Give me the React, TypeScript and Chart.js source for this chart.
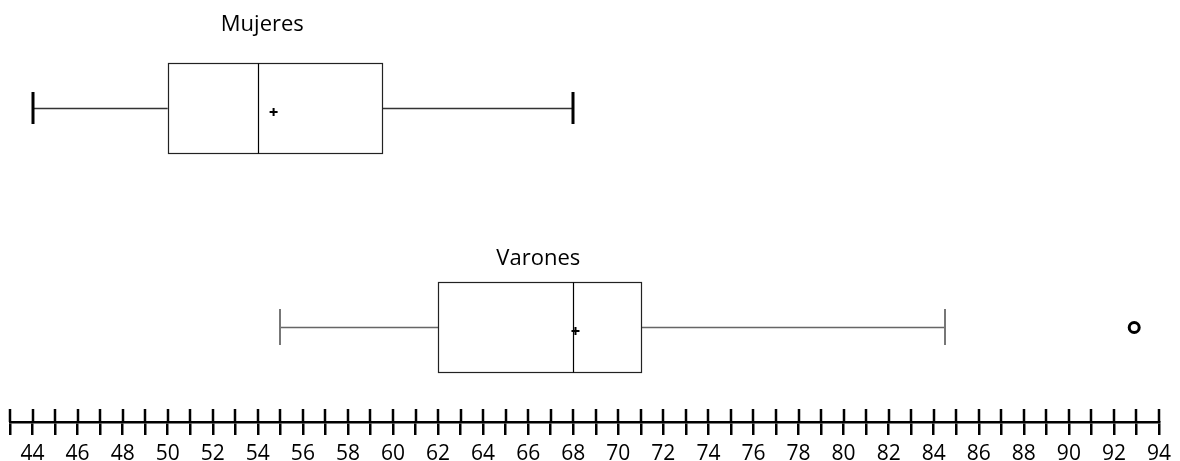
import { useEffect, useRef } from 'react';
import { Chart, registerables } from 'chart.js';

Chart.register(...registerables);

// ---- data ----
const categories = ['Mujeres', 'Varones'];
const rowPositions = [2, 1];
const whiskerLow = [44, 55];
const q1 = [50, 62];
const median = [54, 68];
const q3 = [59.5, 71];
const whiskerHigh = [68, 84.5];
const means = [54.7, 68.1];
const outlierValues = [92.9];
const outlierRows = [1];
const xMin = 43;
const xMax = 94;
const tickStep = 1;
const labelEvery = 2;

// ---- styles (not data) ----
const FONT = "'Comic Sans MS', 'Open Sans', sans-serif";
const titleAnchorX = [54.2, 66.45];
const titleBaselineAbove = [77, 62];
const whiskerColors = ['#333333', '#666666'];
const capColors = ['#000000', '#777777'];
const capWidths = [3, 2];
const capHalf = [16, 18];
const boxHalf = 45;

const boxPlotPlugin = {
  id: 'boxPlotPlugin',
  afterDatasetsDraw(chart: any) {
    const { ctx, scales } = chart;
    const x = scales.x;
    const y = scales.y;
    const px = (v: number) => x.getPixelForValue(v);
    ctx.save();
    categories.forEach((name, i) => {
      const cy = Math.round(y.getPixelForValue(rowPositions[i]));
      // whiskers
      ctx.strokeStyle = whiskerColors[i];
      ctx.lineWidth = 1.5;
      ctx.beginPath();
      ctx.moveTo(px(whiskerLow[i]), cy + 0.5);
      ctx.lineTo(px(q1[i]), cy + 0.5);
      ctx.moveTo(px(q3[i]), cy + 0.5);
      ctx.lineTo(px(whiskerHigh[i]), cy + 0.5);
      ctx.stroke();
      // caps
      ctx.strokeStyle = capColors[i];
      ctx.lineWidth = capWidths[i];
      ctx.beginPath();
      [whiskerLow[i], whiskerHigh[i]].forEach((v) => {
        const xx = Math.round(px(v));
        ctx.moveTo(xx, cy - capHalf[i]);
        ctx.lineTo(xx, cy + capHalf[i]);
      });
      ctx.stroke();
      // box
      ctx.strokeStyle = '#222222';
      ctx.lineWidth = 1.2;
      const left = Math.round(px(q1[i])) + 0.5;
      const right = Math.round(px(q3[i])) + 0.5;
      ctx.fillStyle = '#ffffff';
      ctx.fillRect(left, cy - boxHalf + 0.5, right - left, boxHalf * 2);
      ctx.strokeRect(left, cy - boxHalf + 0.5, right - left, boxHalf * 2);
      // median
      ctx.strokeStyle = '#000000';
      const mx = Math.round(px(median[i])) + 0.5;
      ctx.beginPath();
      ctx.moveTo(mx, cy - boxHalf + 0.5);
      ctx.lineTo(mx, cy + boxHalf + 0.5);
      ctx.stroke();
      // mean marker
      const meanX = px(means[i]);
      const meanY = cy + 4;
      ctx.lineWidth = 2;
      ctx.beginPath();
      ctx.moveTo(meanX - 4, meanY);
      ctx.lineTo(meanX + 4, meanY);
      ctx.moveTo(meanX, meanY - 4);
      ctx.lineTo(meanX, meanY + 4);
      ctx.stroke();
      // title
      ctx.fillStyle = '#000000';
      ctx.font = `22px ${FONT}`;
      ctx.textAlign = 'center';
      ctx.textBaseline = 'alphabetic';
      ctx.fillText(name, px(titleAnchorX[i]), cy - titleBaselineAbove[i]);
    });
    ctx.restore();
  },
  afterDraw(chart: any) {
    const { ctx, scales } = chart;
    const x = scales.x;
    const bottom = chart.chartArea.bottom;
    ctx.save();
    ctx.strokeStyle = '#000000';
    ctx.lineWidth = 2.5;
    ctx.beginPath();
    x.ticks.forEach((_t: any, i: number) => {
      const xx = Math.round(x.getPixelForTick(i));
      ctx.moveTo(xx, bottom - 13);
      ctx.lineTo(xx, bottom);
    });
    ctx.stroke();
    ctx.restore();
  },
};

export default function App() {
  const ref = useRef<HTMLCanvasElement | null>(null);
  useEffect(() => {
    if (!ref.current) return;
    const chart = new Chart(ref.current, {
      type: 'scatter',
      data: {
        datasets: [
          {
            label: 'Atípicos',
            data: outlierValues.map((v, i) => ({ x: v, y: outlierRows[i] })),
            pointStyle: 'circle',
            pointRadius: 5,
            pointBorderWidth: 3,
            borderColor: '#000000',
            backgroundColor: '#ffffff',
          },
        ],
      },
      options: {
        responsive: false,
        animation: false,
        events: [],
        layout: { autoPadding: false, padding: { left: 10, right: 20, top: 0, bottom: -13 } },
        plugins: {
          legend: { display: false },
          tooltip: { enabled: false },
          title: { display: false },
        },
        scales: {
          x: {
            type: 'linear',
            min: xMin,
            max: xMax,
            position: 'bottom',
            border: { display: true, color: '#000000', width: 2.5 },
            grid: {
              drawOnChartArea: false,
              drawTicks: true,
              tickLength: 13,
              color: '#000000',
              lineWidth: 2.5,
            },
            ticks: {
              stepSize: tickStep,
              autoSkip: false,
              maxRotation: 0,
              minRotation: 0,
              padding: 9,
              color: '#000000',
              font: { family: FONT, size: 21, lineHeight: 1 },
              callback: (v: any) => (Number(v) % labelEvery === 0 ? String(v) : ''),
            },
          },
          y: {
            type: 'linear',
            display: false,
            min: 0.57,
            max: 2.49,
          },
        },
      },
      plugins: [boxPlotPlugin],
    });
    return () => chart.destroy();
  }, []);
  return (
    <div style={{ position: 'absolute', left: 0, top: 0, width: 1180, height: 461, overflow: 'hidden', background: '#ffffff' }}>
      <canvas ref={ref} width={1180} height={461} style={{ display: 'block' }} />
    </div>
  );
}
